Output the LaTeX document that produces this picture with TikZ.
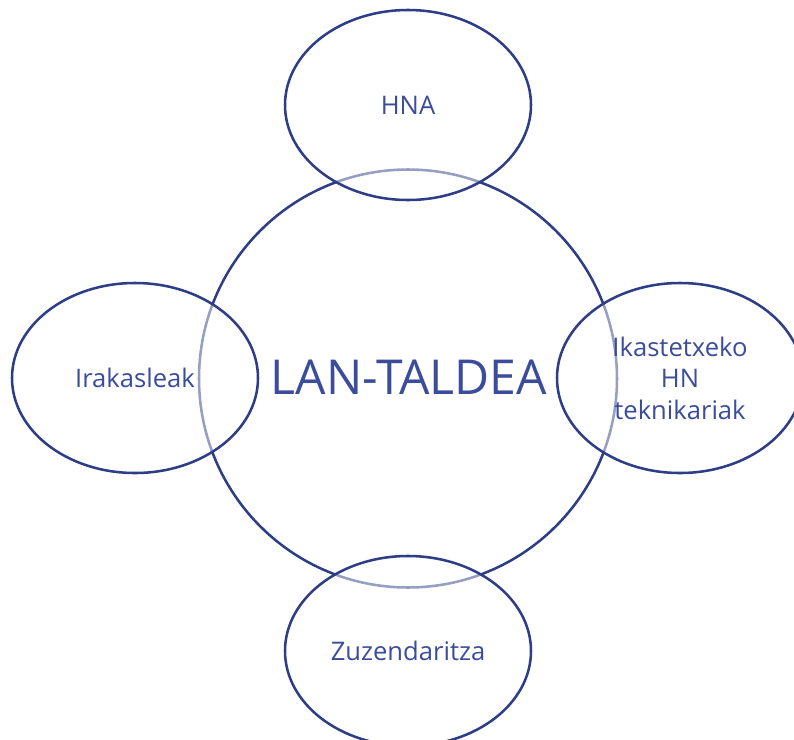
\documentclass[tikz,border=0pt]{standalone}
\usepackage{fontspec}
\setmainfont{Open Sans}
\usetikzlibrary{shapes.geometric}
\definecolor{linec}{RGB}{46,62,134}
\definecolor{textc}{RGB}{59,76,155}
\begin{document}
\begin{tikzpicture}[x=0.75pt,y=-0.75pt,
  bigc/.style={circle,draw=linec,line width=1.9pt,minimum size=418*0.75pt,inner sep=0pt},
  satellite/.style={ellipse,draw=linec,line width=1.9pt,fill=white,fill opacity=0.5,
    draw opacity=1,text opacity=1,minimum width=246*0.75pt,minimum height=190*0.75pt,
    inner sep=0pt,text=textc,align=center,font=\fontsize{19.2}{23.6}\selectfont},
  bigtext/.style={text=textc,font=\fontsize{36.1}{44}\selectfont,inner sep=0pt}]
\useasboundingbox (0,0) rectangle (794,740);
\node[bigc] (main) at (408,378.5) {};
\node[satellite] (top) at (408,105) {HNA};
\node[satellite] (left) at (135,378) {Irakasleak};
\node[satellite] (right) at (680,378) {Ikastetxeko\\HN\\teknikariak};
\node[satellite] (bottom) at (408,651) {Zuzendaritza};
\node[bigtext] (title) at (409,377) {LAN-TALDEA};
\end{tikzpicture}
\end{document}
